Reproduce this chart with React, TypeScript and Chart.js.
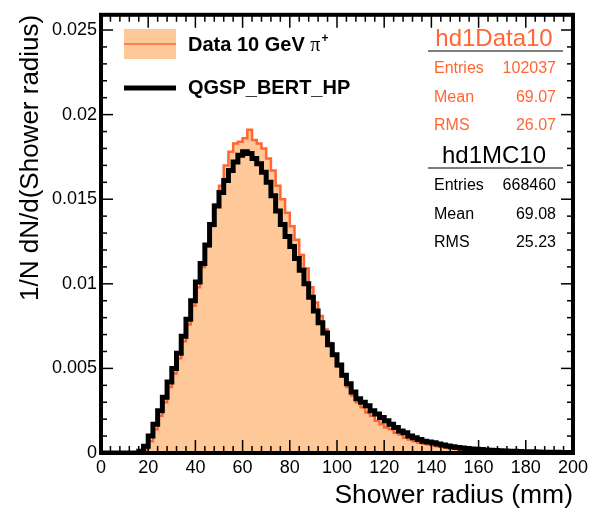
import React, { useEffect, useRef } from "react";
import { Chart, registerables } from "chart.js";

Chart.register(...registerables);

// ---- data (2 mm bins from 0 to 200 mm) ----
const X_MIN = 0;
const X_MAX = 200;
const BIN_WIDTH = 2;

const DATA10_VALUES = [
  0, 0, 0, 0, 0, 0, 0, 0, 0, 0.0002,
  0.0007, 0.0014, 0.0022, 0.003, 0.0039, 0.0047, 0.0056, 0.0066, 0.0076, 0.0087,
  0.0098, 0.011, 0.0122, 0.0134, 0.0147, 0.0158, 0.017, 0.0178, 0.0183, 0.0184,
  0.0186, 0.0191, 0.0185, 0.0183, 0.018, 0.0174, 0.0167, 0.0158, 0.015, 0.0142,
  0.0134, 0.0126, 0.0117, 0.0109, 0.0098, 0.0089, 0.0081, 0.0073, 0.0065, 0.0058,
  0.0051, 0.0045, 0.0039, 0.0034, 0.003, 0.0027, 0.0024, 0.0022, 0.0019, 0.0017,
  0.0015, 0.0014, 0.0012, 0.0011, 0.0009, 0.0008, 0.0007, 0.0006, 0.00055, 0.0005,
  0.00045, 0.0004, 0.00035, 0.0003, 0.00027, 0.00024, 0.00021, 0.00019, 0.00017, 0.00015,
  0.00014, 0.00012, 0.00011, 0.0001, 0.00009, 0.00008, 0.00007, 0.00007, 0.00006, 0.00005,
  0.00005, 0.00004, 0.00004, 0.00003, 0.00003, 0.00003, 0.00002, 0.00002, 0.00002, 0.00002,
];

const MC10_VALUES = [
  0, 0, 0, 0, 0, 0, 0, 0, 0.0001, 0.0004,
  0.001, 0.0017, 0.0025, 0.0033, 0.0042, 0.005, 0.0059, 0.0069, 0.0079, 0.009,
  0.0101, 0.0112, 0.0123, 0.0135, 0.0146, 0.0154, 0.0161, 0.0167, 0.0172, 0.0176,
  0.0178, 0.0177, 0.0174, 0.0171, 0.0166, 0.016, 0.0152, 0.0143, 0.0135, 0.0128,
  0.0122, 0.0115, 0.0108, 0.01, 0.0092, 0.0084, 0.0077, 0.0071, 0.0064, 0.0058,
  0.0052, 0.0046, 0.0041, 0.0036, 0.0032, 0.003, 0.0028, 0.0025, 0.0023, 0.0021,
  0.0019, 0.0017, 0.0015, 0.0013, 0.0012, 0.001, 0.0009, 0.0008, 0.0007, 0.00065,
  0.0006, 0.00053, 0.00047, 0.00042, 0.00037, 0.00033, 0.0003, 0.00027, 0.00024, 0.00022,
  0.0002, 0.00018, 0.00016, 0.00015, 0.00013, 0.00012, 0.00011, 0.0001, 0.00009, 0.00008,
  0.00007, 0.00007, 0.00006, 0.00005, 0.00005, 0.00004, 0.00004, 0.00003, 0.00003, 0.00003,
];

const X_TICKS = [0, 20, 40, 60, 80, 100, 120, 140, 160, 180, 200];
const X_TICK_LABELS = ["0", "20", "40", "60", "80", "100", "120", "140", "160", "180", "200"];
const Y_TICKS = [0, 0.005, 0.01, 0.015, 0.02, 0.025];
const Y_TICK_LABELS = ["0", "0.005", "0.01", "0.015", "0.02", "0.025"];
const Y_MAX = 0.0259;
const X_MINOR_STEP = 4;
const Y_MINOR_STEP = 0.001;

const LEGEND_DATA = "Data 10 GeV";
const LEGEND_MC = "QGSP_BERT_HP";
const STATS_DATA_TITLE = "hd1Data10";
const STATS_DATA_ROWS = [["Entries", "102037"], ["Mean", "69.07"], ["RMS", "26.07"]];
const STATS_MC_TITLE = "hd1MC10";
const STATS_MC_ROWS = [["Entries", "668460"], ["Mean", "69.08"], ["RMS", "25.23"]];

const X_TITLE = "Shower radius (mm)";
const Y_TITLE = "1/N dN/d(Shower radius)";

const FONT = "'Liberation Sans', Arial, Helvetica, sans-serif";
const ORANGE = "#ff6633";
const PEACH = "#fec898";

function histPoints(vals: number[]) {
  const pts = vals.map((v, i) => ({ x: X_MIN + i * BIN_WIDTH, y: v }));
  pts.push({ x: X_MIN + vals.length * BIN_WIDTH, y: vals[vals.length - 1] });
  return pts;
}

const rootDecor = {
  id: "rootDecor",
  afterDatasetsDraw(chart: any) {
    const { ctx, chartArea: a, scales } = chart;
    const xs = scales.x;
    const ys = scales.y;
    ctx.save();
    ctx.strokeStyle = "#000";
    ctx.lineWidth = 1.5;
    const seg = (x1: number, y1: number, x2: number, y2: number) => {
      ctx.beginPath();
      ctx.moveTo(x1, y1);
      ctx.lineTo(x2, y2);
      ctx.stroke();
    };
    // x ticks (bottom and top, inside)
    const nx = Math.round((X_MAX - X_MIN) / X_MINOR_STEP);
    for (let i = 0; i <= nx; i++) {
      const v = X_MIN + i * X_MINOR_STEP;
      const px = xs.getPixelForValue(v);
      const major = X_TICKS.some((t) => Math.abs(t - v) < 1e-9);
      const len = major ? 13 : 7;
      seg(px, a.bottom, px, a.bottom - len);
      seg(px, a.top, px, a.top + len);
    }
    // y ticks (left and right, inside)
    const ny = Math.floor(Y_MAX / Y_MINOR_STEP + 1e-9);
    for (let i = 0; i <= ny; i++) {
      const v = i * Y_MINOR_STEP;
      const py = ys.getPixelForValue(v);
      const major = Y_TICKS.some((t) => Math.abs(t - v) < 1e-9);
      const len = major ? 12 : 6;
      seg(a.left, py, a.left + len, py);
      seg(a.right, py, a.right - len, py);
    }
    // frame
    ctx.lineWidth = 4;
    ctx.strokeRect(a.left, a.top, a.right - a.left, a.bottom - a.top);

    // legend
    ctx.fillStyle = PEACH;
    ctx.fillRect(124, 29, 52, 30);
    ctx.strokeStyle = ORANGE;
    ctx.lineWidth = 1.5;
    seg(124, 44, 176, 44);
    ctx.strokeStyle = "#000";
    ctx.lineWidth = 5;
    seg(124, 88, 176, 88);

    ctx.fillStyle = "#000";
    ctx.textBaseline = "alphabetic";
    ctx.textAlign = "left";
    ctx.font = `bold 20px ${FONT}`;
    ctx.fillText(LEGEND_DATA, 188, 51);
    const w = ctx.measureText(LEGEND_DATA + " ").width;
    ctx.font = `20px 'Liberation Serif', 'Times New Roman', serif`;
    ctx.fillText("\u03c0", 188 + w, 51);
    const wp = ctx.measureText("\u03c0").width;
    ctx.font = `bold 12px ${FONT}`;
    ctx.fillText("+", 188 + w + wp + 1, 42);
    ctx.font = `bold 20px ${FONT}`;
    ctx.fillText(LEGEND_MC, 188, 94);

    // stats boxes
    const drawStats = (title: string, rows: string[][], color: string, titleBase: number, lineY: number, rowBases: number[]) => {
      ctx.fillStyle = color;
      ctx.font = `24px ${FONT}`;
      ctx.textAlign = "center";
      ctx.fillText(title, 494, titleBase);
      ctx.strokeStyle = "#000";
      ctx.lineWidth = 1.2;
      seg(428, lineY, 563, lineY);
      ctx.font = `16px ${FONT}`;
      rows.forEach((r, i) => {
        ctx.textAlign = "left";
        ctx.fillText(r[0], 434, rowBases[i]);
        ctx.textAlign = "right";
        ctx.fillText(r[1], 556, rowBases[i]);
      });
    };
    drawStats(STATS_DATA_TITLE, STATS_DATA_ROWS, ORANGE, 46, 51, [73, 102, 130]);
    drawStats(STATS_MC_TITLE, STATS_MC_ROWS, "#000", 163, 168, [190, 219, 247]);
    ctx.restore();
  },
};

export default function App() {
  const ref = useRef<HTMLCanvasElement | null>(null);
  useEffect(() => {
    if (!ref.current) return;
    const chart = new Chart(ref.current, {
      type: "line",
      data: {
        datasets: [
          {
            label: "MC",
            data: histPoints(MC10_VALUES),
            borderColor: "#000",
            borderWidth: 5,
            stepped: true,
            pointRadius: 0,
            fill: false,
            order: 0,
          },
          {
            label: "Data",
            data: histPoints(DATA10_VALUES),
            borderColor: ORANGE,
            backgroundColor: PEACH,
            borderWidth: 2.5,
            stepped: true,
            pointRadius: 0,
            fill: "origin",
            order: 1,
          },
        ],
      },
      options: {
        responsive: false,
        animation: false,
        layout: { padding: { top: 10, right: 19, left: 0, bottom: 0 } },
        plugins: { legend: { display: false }, tooltip: { enabled: false } },
        scales: {
          x: {
            type: "linear",
            min: X_MIN,
            max: X_MAX,
            grid: { display: false, drawTicks: false },
            border: { display: false },
            afterBuildTicks: (s: any) => {
              s.ticks = X_TICKS.map((v) => ({ value: v }));
            },
            afterFit: (s: any) => {
              s.height = 60;
            },
            ticks: {
              autoSkip: false,
              maxRotation: 0,
              padding: 4,
              color: "#000",
              font: { family: FONT, size: 18 },
              callback: (_v: any, i: number) => X_TICK_LABELS[i],
            },
            title: {
              display: true,
              text: X_TITLE,
              align: "end",
              color: "#000",
              font: { family: FONT, size: 26.5 },
              padding: { top: 1, bottom: 1 },
            },
          },
          y: {
            type: "linear",
            min: 0,
            max: Y_MAX,
            grid: { display: false, drawTicks: false },
            border: { display: false },
            afterBuildTicks: (s: any) => {
              s.ticks = Y_TICKS.map((v) => ({ value: v }));
            },
            afterFit: (s: any) => {
              s.width = 101;
            },
            ticks: {
              autoSkip: false,
              padding: 4,
              color: "#000",
              font: { family: FONT, size: 18 },
              callback: (_v: any, i: number) => Y_TICK_LABELS[i],
            },
            title: {
              display: true,
              text: Y_TITLE,
              align: "end",
              color: "#000",
              font: { family: FONT, size: 26 },
              padding: { top: 15, bottom: 0 },
            },
          },
        },
      },
      plugins: [rootDecor],
    } as any);
    return () => chart.destroy();
  }, []);
  return (
    <div style={{ position: "absolute", left: 0, top: 0, width: 592, height: 513, background: "#fff" }}>
      <canvas ref={ref} width={592} height={513} />
    </div>
  );
}
